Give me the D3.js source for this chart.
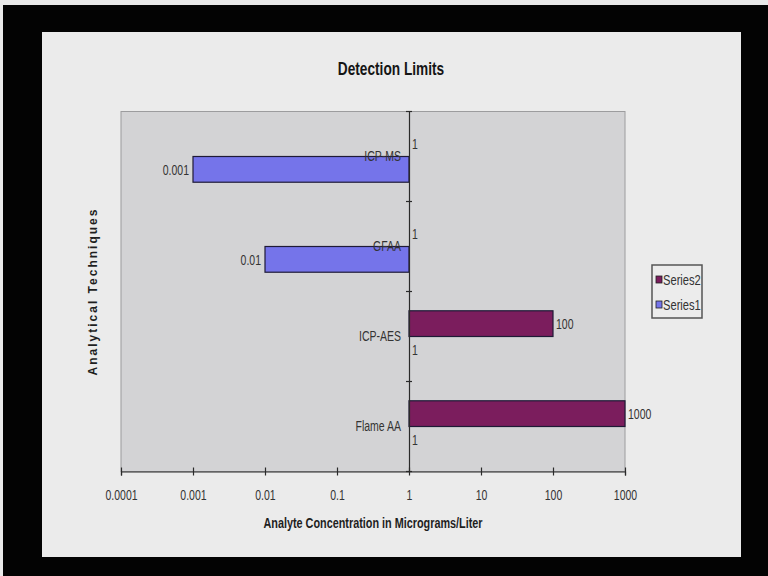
<!DOCTYPE html>
<html>
<head>
<meta charset="utf-8">
<title>Detection Limits</title>
<script src="https://cdn.jsdelivr.net/npm/d3@7"></script>
<style>
  html, body { margin: 0; padding: 0; background: #000; }
  svg { display: block; }
  text { font-family: "Liberation Sans", Arial, sans-serif; }
</style>
</head>
<body>
<svg id="chart" width="768" height="576"></svg>
<script>
// Detection limits per technique (micrograms per litre), two series
const categories = ["Flame AA", "ICP-AES", "GFAA", "ICP-MS"];
const series1 = [1, 1, 0.01, 0.001];
const series2 = [1000, 100, 1, 1];
const seriesNames = ["Series1", "Series2"];
const xTickValues = [0.0001, 0.001, 0.01, 0.1, 1, 10, 100, 1000];
const xTickLabels = ["0.0001", "0.001", "0.01", "0.1", "1", "10", "100", "1000"];

const colors = { Series1: "#7574ea", Series2: "#7b1d5d" };
const squeeze = 0.7;   // condensed look of the chart lettering
const labelSize = 15;

const svg = d3.select("#chart");

// screen and slide
svg.append("rect").attr("width", 768).attr("height", 576).attr("fill", "#e9e9e9");
svg.append("rect").attr("x", 3).attr("y", 5).attr("width", 765).attr("height", 571).attr("fill", "#030303");
svg.append("rect").attr("x", 42).attr("y", 32).attr("width", 699).attr("height", 525).attr("fill", "#ebebeb");

const plot = { left: 121, right: 625, top: 111.5, bottom: 471.5 };

const x = d3.scaleLog().domain([0.0001, 1000]).range([plot.left, plot.right]);
const y = d3.scaleBand().domain(categories.slice().reverse()).range([plot.top, plot.bottom]);
const inner = d3.scaleBand().domain(["Series2", "Series1"]).range([0, y.bandwidth()])
  .paddingInner(0).paddingOuter(0.75);

// plot area
svg.append("rect")
  .attr("x", plot.left).attr("y", plot.top)
  .attr("width", plot.right - plot.left).attr("height", plot.bottom - plot.top)
  .attr("fill", "#d3d3d5").attr("stroke", "#9c9c9e").attr("stroke-width", 1);

const rows = [];
categories.forEach((c, i) => {
  rows.push({ cat: c, series: "Series1", value: series1[i] });
  rows.push({ cat: c, series: "Series2", value: series2[i] });
});

const base = x(1);

// bars grow from the crossing value 1
svg.append("g").selectAll("rect")
  .data(rows.filter(d => d.value !== 1))
  .join("rect")
  .attr("x", d => Math.min(x(d.value), base))
  .attr("y", d => y(d.cat) + inner(d.series))
  .attr("width", d => Math.abs(x(d.value) - base))
  .attr("height", inner.bandwidth())
  .attr("fill", d => colors[d.series])
  .attr("stroke", "#1e1a36").attr("stroke-width", 1.2);

// value labels at the outer end of each bar
svg.append("g").selectAll("text")
  .data(rows)
  .join("text")
  .attr("font-size", labelSize)
  .attr("fill", "#333")
  .attr("dy", "0.35em")
  .attr("text-anchor", d => d.value >= 1 ? "start" : "end")
  .attr("transform", d => {
    const tx = d.value >= 1 ? x(d.value) + 3 : x(d.value) - 4;
    const ty = y(d.cat) + inner(d.series) + inner.bandwidth() / 2;
    return `translate(${tx},${ty}) scale(${squeeze},1)`;
  })
  .text(d => String(d.value));

// category axis at x = 1
const yAxis = svg.append("g")
  .attr("transform", `translate(${base},0)`)
  .call(d3.axisLeft(y).tickSize(0).tickPadding(8));
yAxis.select(".domain").attr("stroke", "#2a2a2a").attr("stroke-width", 1.2);
yAxis.selectAll(".tick text")
  .attr("font-size", labelSize).attr("fill", "#333")
  .attr("font-family", null)
  .attr("x", null)
  .attr("transform", `translate(-8,0) scale(${squeeze},1)`);

// tick marks on the band boundaries
const bounds = y.domain().map(c => y(c)).concat([y.range()[1]]);
svg.append("g").selectAll("line")
  .data(bounds)
  .join("line")
  .attr("x1", base - 3).attr("x2", base + 3)
  .attr("y1", d => d).attr("y2", d => d)
  .attr("stroke", "#2a2a2a").attr("stroke-width", 1.2);

// value axis
const xAxis = svg.append("g")
  .attr("transform", `translate(0,${plot.bottom})`)
  .call(d3.axisBottom(x).tickValues(xTickValues)
    .tickFormat((d, i) => xTickLabels[i]).tickSize(4).tickPadding(14));
xAxis.select(".domain").attr("stroke", "#2a2a2a").attr("stroke-width", 1.2);
xAxis.selectAll(".tick line").attr("y1", -4).attr("y2", 4)
  .attr("stroke", "#2a2a2a").attr("stroke-width", 1.2);
xAxis.selectAll(".tick text")
  .attr("font-size", labelSize).attr("fill", "#333")
  .attr("font-family", null)
  .attr("transform", `scale(${squeeze},1)`);

// titles
svg.append("text")
  .attr("transform", `translate(391,75) scale(0.72,1)`)
  .attr("text-anchor", "middle")
  .attr("font-size", 19).attr("font-weight", "bold").attr("fill", "#151515")
  .text("Detection Limits");

svg.append("text")
  .attr("transform", `translate(${(plot.left + plot.right) / 2},528) scale(0.7,1)`)
  .attr("text-anchor", "middle")
  .attr("font-size", 15.5).attr("font-weight", "bold").attr("fill", "#1e1e1e")
  .text("Analyte Concentration in Micrograms/Liter");

svg.append("text")
  .attr("transform", `translate(97,${(plot.top + plot.bottom) / 2}) rotate(-90)`)
  .attr("text-anchor", "middle")
  .attr("font-size", 12).attr("font-weight", "bold").attr("fill", "#1e1e1e")
  .attr("letter-spacing", 2)
  .text("Analytical Techniques");

// legend
const legend = svg.append("g").attr("transform", "translate(652,265)");
legend.append("rect").attr("width", 50).attr("height", 53)
  .attr("fill", "#ececec").attr("stroke", "#555").attr("stroke-width", 1.5);
const entries = legend.selectAll("g.entry")
  .data(seriesNames.slice().reverse())
  .join("g").attr("class", "entry")
  .attr("transform", (d, i) => `translate(0,${15 + i * 25})`);
entries.append("rect")
  .attr("x", 4).attr("y", -4).attr("width", 6).attr("height", 7)
  .attr("fill", d => colors[d]).attr("stroke", "#222").attr("stroke-width", 0.8);
entries.append("text")
  .attr("transform", `translate(11,0) scale(0.72,1)`)
  .attr("dy", "0.35em")
  .attr("font-size", 15.5).attr("fill", "#333")
  .text(d => d);
</script>
</body>
</html>
